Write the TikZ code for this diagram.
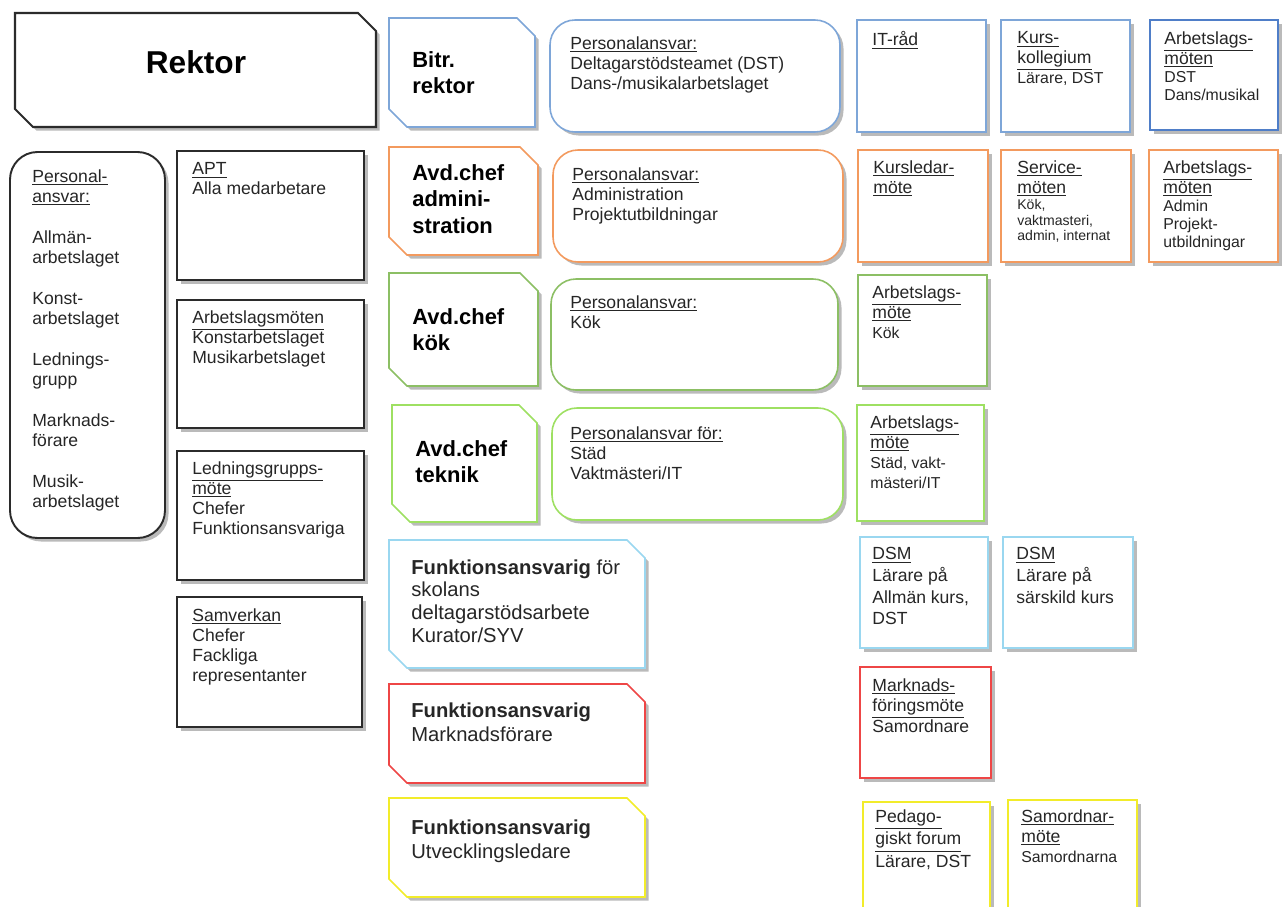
\documentclass[tikz,border=0pt]{standalone}
\usepackage{fontspec}
\setmainfont{Liberation Sans}
\usetikzlibrary{shadows}

\definecolor{rektorgray}{HTML}{2B2B2B}
\definecolor{bitrblue}{HTML}{7EA6D8}
\definecolor{dstblue}{HTML}{4F7EC8}
\definecolor{adminorange}{HTML}{F39A5E}
\definecolor{kokgreen}{HTML}{8CBF64}
\definecolor{teknikgreen}{HTML}{9EE062}
\definecolor{stodblue}{HTML}{9AD7F0}
\definecolor{marknadred}{HTML}{EE4646}
\definecolor{utvyellow}{HTML}{F2EC2A}

% box with the top right and bottom left corners cut off
\newcommand{\snipped}[4]{(#1,#2) -- ({#3-18},#2) -- (#3,{#2+18}) -- (#3,#4) -- ({#1+18},#4) -- (#1,{#4-18}) -- cycle}
\newcommand{\finetxt}{\fontsize{8}{9.4}\selectfont}
\newcommand{\minortxt}{\fontsize{9}{10.5}\selectfont}

\tikzset{
  boxline/.style={draw=#1, line width=0.9pt, fill=white,
    drop shadow={shadow xshift=0.07cm, shadow yshift=-0.07cm, fill=black!60, opacity=0.45}},
  roundbox/.style={boxline=#1, rounded corners=0.5cm},
  txt/.style={anchor=north west, inner sep=0pt, align=left, text=black!85,
    font=\fontsize{10}{11.4}\selectfont},
  chieftxt/.style={txt, text=black, font=\bfseries\fontsize{12.5}{15.2}\selectfont},
  functxt/.style={txt, font=\fontsize{11.5}{13}\selectfont},
}

\begin{document}
\begin{tikzpicture}[x=0.02cm, y=-0.02cm]
  \useasboundingbox (0,0) rectangle (1283,906);
  \clip (0,0) rectangle (1283,906);

  % ---- Rektor and the left columns ----
  \draw[boxline=rektorgray, line width=1.2pt] \snipped{15}{13}{376}{127};
  \node[font=\bfseries\fontsize{18}{21}\selectfont] (rektor) at (196,62) {Rektor};

  \draw[boxline=rektorgray, line width=1.1pt, rounded corners=0.55cm] (10,152) rectangle (165,538);
  \node[txt] (rektor-ansvar) at (32,169)
       {\underline{Personal-}\\\underline{ansvar:}\\[12pt]Allmän-\\arbetslaget\\[12pt]Konst-\\arbetslaget\\[12pt]Lednings-\\grupp\\[12pt]Marknads-\\förare\\[12pt]Musik-\\arbetslaget};

  \draw[boxline=rektorgray, line width=1.1pt] (177,151) rectangle (364,280);
  \node[txt] (apt) at (192,162) {\underline{APT}\\Alla medarbetare};
  \draw[boxline=rektorgray, line width=1.1pt] (177,300) rectangle (364,428);
  \node[txt] (arbmoten) at (192,310) {\underline{Arbetslagsmöten}\\Konstarbetslaget\\Musikarbetslaget};
  \draw[boxline=rektorgray, line width=1.1pt] (177,451) rectangle (364,580);
  \node[txt] (ledgrupp) at (192,461) {\underline{Ledningsgrupps-}\\\underline{möte}\\Chefer\\Funktionsansvariga};
  \draw[boxline=rektorgray, line width=1.1pt] (177,597) rectangle (362,727);
  \node[txt] (samverkan) at (192,608) {\underline{Samverkan}\\Chefer\\Fackliga\\representanter};

  % ---- Bitr. rektor ----
  \draw[boxline=bitrblue] \snipped{389}{18}{535}{127};
  \node[chieftxt] (bitr) at (412,51) {Bitr.\\rektor};
  \draw[roundbox=bitrblue] (550,20) rectangle (840,132);
  \node[txt] (bitr-ansvar) at (570,36) {\underline{Personalansvar:}\\Deltagarstödsteamet (DST)\\Dans-/musikalarbetslaget};
  \draw[boxline=bitrblue] (857,20) rectangle (986,132);
  \node[txt] (itrad) at (872,31) {\underline{IT-råd}};
  \draw[boxline=bitrblue] (1001,20) rectangle (1130,132);
  \node[txt] (kollegium) at (1017,31) {\underline{Kurs-}\\\underline{kollegium}\\\minortxt Lärare, DST};
  \draw[boxline=dstblue] (1150,20) rectangle (1278,130);
  \node[txt] (dst-moten) at (1164,31) {\underline{Arbetslags-}\\\underline{möten}\\[-1pt]\minortxt DST\\[-1pt]\minortxt Dans/musikal};

  % ---- Avd.chef administration ----
  \draw[boxline=adminorange] \snipped{389}{147}{538}{255};
  \node[chieftxt] (admin) at (412,164) {Avd.chef\\admini-\\stration};
  \draw[roundbox=adminorange] (553,150) rectangle (843,262);
  \node[txt] (admin-ansvar) at (572,167) {\underline{Personalansvar:}\\Administration\\Projektutbildningar};
  \draw[boxline=adminorange] (858,150) rectangle (988,262);
  \node[txt] (kursledar) at (873,160) {\underline{Kursledar-}\\\underline{möte}};
  \draw[boxline=adminorange] (1001,150) rectangle (1131,262);
  \node[txt] (service) at (1017,160) {\underline{Service-}\\\underline{möten}\\[-2pt]\finetxt Kök,\\[-2.5pt]\finetxt vaktmasteri,\\[-2.5pt]\finetxt admin, internat};
  \draw[boxline=adminorange] (1149,150) rectangle (1278,262);
  \node[txt] (admin-moten) at (1163,160) {\underline{Arbetslags-}\\\underline{möten}\\[-1pt]\minortxt Admin\\[-1pt]\minortxt Projekt-\\[-1pt]\minortxt utbildningar};

  % ---- Avd.chef kök ----
  \draw[boxline=kokgreen] \snipped{389}{273}{538}{386};
  \node[chieftxt] (kok) at (412,308) {Avd.chef\\kök};
  \draw[roundbox=kokgreen] (551,279) rectangle (838,390);
  \node[txt] (kok-ansvar) at (570,295) {\underline{Personalansvar:}\\Kök};
  \draw[boxline=kokgreen] (858,275) rectangle (987,386);
  \node[txt] (kok-mote) at (872,285) {\underline{Arbetslags-}\\\underline{möte}\\\minortxt Kök};

  % ---- Avd.chef teknik ----
  \draw[boxline=teknikgreen] \snipped{392}{405}{537}{522};
  \node[chieftxt] (teknik) at (415,440) {Avd.chef\\teknik};
  \draw[roundbox=teknikgreen] (552,408) rectangle (843,520);
  \node[txt] (teknik-ansvar) at (570,426) {\underline{Personalansvar för:}\\Städ\\Vaktmästeri/IT};
  \draw[boxline=teknikgreen] (857,405) rectangle (984,521);
  \node[txt] (teknik-mote) at (870,415) {\underline{Arbetslags-}\\\underline{möte}\\\minortxt Städ, vakt-\\\minortxt mästeri/IT};

  % ---- the three Funktionsansvariga ----
  \draw[boxline=stodblue] \snipped{389}{540}{645}{668};
  \node[functxt] (stod) at (411,559) {\textbf{Funktionsansvarig} för\\skolans\\deltagarstödsarbete\\Kurator/SYV};
  \draw[boxline=stodblue] (860,537) rectangle (988,648);
  \node[txt] (dsm-allman) at (872,547) {\underline{DSM}\\[1pt]Lärare på\\[1pt]Allmän kurs,\\[1pt]DST};
  \draw[boxline=stodblue] (1003,537) rectangle (1133,648);
  \node[txt] (dsm-sarskild) at (1016,547) {\underline{DSM}\\[1pt]Lärare på\\[1pt]särskild kurs};

  \draw[boxline=marknadred] \snipped{389}{684}{645}{783};
  \node[functxt] (marknad) at (411,702) {\textbf{Funktionsansvarig}\\[1pt]Marknadsförare};
  \draw[boxline=marknadred] (860,667) rectangle (991,778);
  \node[txt] (marknad-mote) at (872,678) {\underline{Marknads-}\\\underline{föringsmöte}\\[1pt]Samordnare};

  \draw[boxline=utvyellow] \snipped{389}{798}{645}{897};
  \node[functxt] (utv) at (411,819) {\textbf{Funktionsansvarig}\\[1pt]Utvecklingsledare};
  \draw[boxline=utvyellow] (863,802) rectangle (990,920);
  \node[txt] (pedforum) at (875,809) {\underline{Pedago-}\\[1.5pt]\underline{giskt forum}\\[1.5pt]Lärare, DST};
  \draw[boxline=utvyellow] (1008,800) rectangle (1137,920);
  \node[txt] (samordnar) at (1021,809) {\underline{Samordnar-}\\\underline{möte}\\\minortxt Samordnarna};
\end{tikzpicture}
\end{document}
